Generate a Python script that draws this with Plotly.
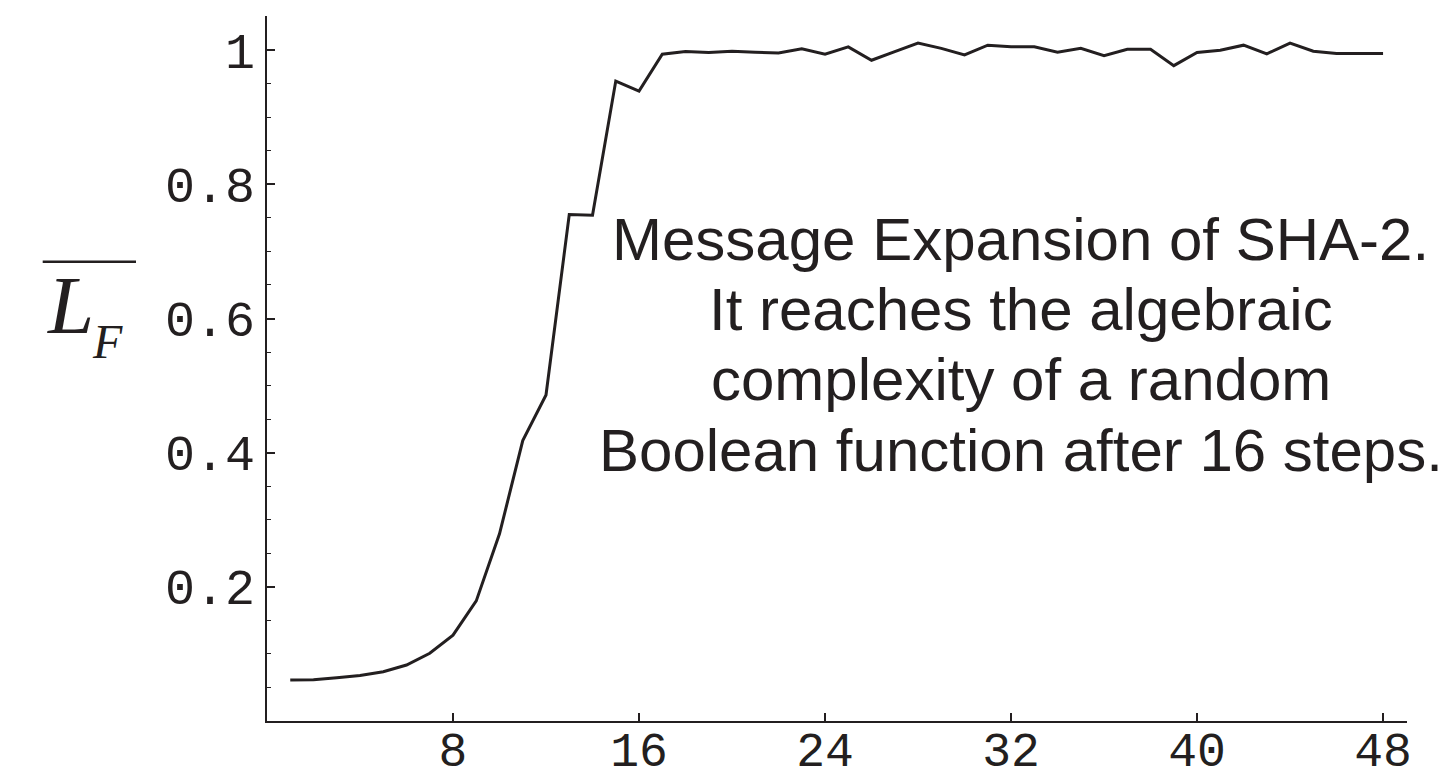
import plotly.graph_objects as go

# Normalised algebraic complexity per step of the SHA-2 message expansion
steps = list(range(1, 49))
lf_mean = [0.061, 0.0616, 0.0646, 0.068, 0.0735, 0.0835, 0.101, 0.128,
           0.179, 0.279, 0.418, 0.486, 0.755, 0.754, 0.954, 0.939,
           0.994, 0.998, 0.9966, 0.9985, 0.997, 0.996, 1.002, 0.994,
           1.005, 0.985, 0.998, 1.0107, 1.0027, 0.993, 1.0075, 1.005,
           1.005, 0.997, 1.003, 0.992, 1.0015, 1.0015, 0.977, 0.9966,
           1.0, 1.0075, 0.9945, 1.0107, 0.9985, 0.995, 0.995, 0.995]

x_tick_vals = [8, 16, 24, 32, 40, 48]
x_tick_text = ["8", "16", "24", "32", "40", "48"]
y_tick_vals = [0.2, 0.4, 0.6, 0.8, 1.0]
y_tick_text = ["0.2", "0.4", "0.6", "0.8", "1"]

note_lines = [
    "Message Expansion of SHA-2.",
    "It reaches the algebraic",
    "complexity of a random",
    "Boolean function after 16 steps.",
]

W, H = 1439, 773
ML, MR, MT, MB = 267, 32, 16, 52
INK = "#231F20"


def px_x(p):
    return (p - ML) / (W - ML - MR)


def px_y(p):
    return (H - MB - p) / (H - MT - MB)


fig = go.Figure(
    go.Scatter(
        x=steps, y=lf_mean, mode="lines",
        line=dict(color=INK, width=3),
        hoverinfo="skip",
    )
)

tick_font = dict(family="Liberation Mono, Courier New, monospace", size=50, color=INK)

fig.update_xaxes(
    range=[0, 49.03], automargin=False,
    showgrid=False, zeroline=False,
    showline=True, linecolor=INK, linewidth=2,
    ticks="inside", ticklen=8, tickwidth=1.5, tickcolor=INK,
    tickmode="array", tickvals=x_tick_vals, ticktext=x_tick_text,
    tickfont=dict(tick_font, size=48), ticklabelstandoff=-15,
)
fig.update_yaxes(
    range=[0, 1.051], automargin=False,
    showgrid=False, zeroline=False,
    showline=True, linecolor=INK, linewidth=2,
    ticks="inside", ticklen=8, tickwidth=1.5, tickcolor=INK,
    tickmode="array", tickvals=y_tick_vals, ticktext=y_tick_text,
    tickfont=tick_font, ticklabelstandoff=0,
    minor=dict(tickmode="linear", tick0=0, dtick=0.05, ticks="inside",
               ticklen=4, tickwidth=1.2, tickcolor=INK),
)

annotations = []
baselines = [260.0, 330.3, 400.6, 471.0]
note_size = 60
for text, base in zip(note_lines, baselines):
    annotations.append(dict(
        text=text, xref="paper", yref="paper",
        x=px_x(1021), y=px_y(base - 0.35 * note_size),
        xanchor="center", yanchor="middle", showarrow=False,
        font=dict(family="Liberation Sans, Arial, sans-serif", size=note_size, color=INK),
    ))

# axis title: overlined L with subscript F
annotations.append(dict(
    text="<i>L</i>", xref="paper", yref="paper",
    x=px_x(70), y=px_y(305), xanchor="center", yanchor="middle",
    showarrow=False,
    font=dict(family="Liberation Serif, Times New Roman, serif", size=83, color=INK),
))
annotations.append(dict(
    text="<i>F</i>", xref="paper", yref="paper",
    x=px_x(107), y=px_y(341), xanchor="center", yanchor="middle",
    showarrow=False,
    font=dict(family="Liberation Serif, Times New Roman, serif", size=48, color=INK),
))

fig.update_layout(
    width=W, height=H,
    margin=dict(l=ML, r=MR, t=MT, b=MB, autoexpand=False),
    paper_bgcolor="white", plot_bgcolor="white",
    showlegend=False,
    annotations=annotations,
    shapes=[dict(
        type="line", xref="paper", yref="paper",
        x0=px_x(42.7), x1=px_x(136), y0=px_y(261.7), y1=px_y(261.7),
        line=dict(color=INK, width=2.5),
    )],
)

fig.write_html("out.html", config={"displayModeBar": False})
